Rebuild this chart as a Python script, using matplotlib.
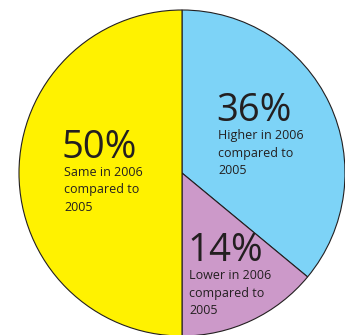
import matplotlib
matplotlib.use('Agg')
import matplotlib.pyplot as plt

# survey shares, clockwise from 12 o'clock
shares = [36, 14, 50]
pct_labels = ['36%', '14%', '50%']
desc_labels = [
    ['Higher in 2006', 'compared to', '2005'],
    ['Lower in 2006', 'compared to', '2005'],
    ['Same in 2006', 'compared to', '2005'],
]
colours = ['#7dd3f7', '#cc99c9', '#fff200']

W, H = 345, 335
fig = plt.figure(figsize=(W / 100, H / 100), dpi=100)
ax = fig.add_axes([0, 0, 1, 1])
ax.set_xlim(0, W)
ax.set_ylim(H, 0)
ax.set_aspect('equal')
ax.axis('off')

cx, cy, r = 182, 173, 163
ax.pie(shares, colors=colours, startangle=90, counterclock=False,
       center=(cx, -cy), radius=r,
       wedgeprops=dict(edgecolor='#231f20', linewidth=0.8))
# pie draws in y-up coords; flip back for pixel-style layout
for p in ax.patches:
    p.set_transform(matplotlib.transforms.Affine2D().scale(1, -1) + ax.transData)
ax.set_xlim(0, W)
ax.set_ylim(H, 0)

# label anchors (left x, baseline of the percentage)
anchors = [(218, 121), (189, 261), (64, 158)]
txt = '#231f20'
font = 'Open Sans'
for (x, y), big, lines in zip(anchors, pct_labels, desc_labels):
    ax.text(x - 2, y, big, fontsize=27.5, family=font,
            color=txt, ha='left', va='baseline')
    for i, ln in enumerate(lines):
        ax.text(x, y + 18 + i * 17.5, ln, fontsize=9, family=font, color=txt,
                ha='left', va='baseline')

fig.savefig('out.png', dpi=100)
